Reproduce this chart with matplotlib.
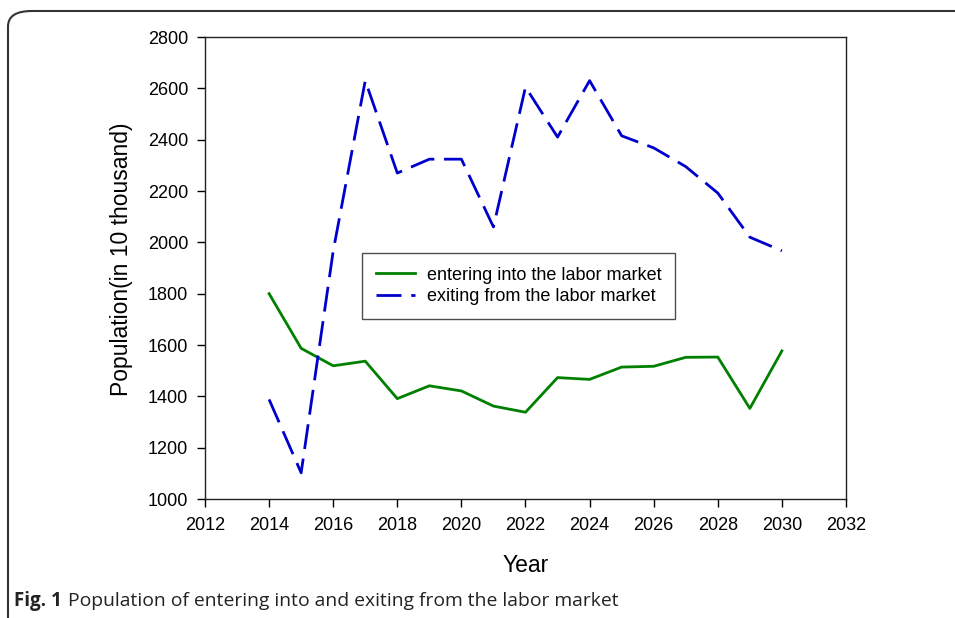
import matplotlib
matplotlib.use("Agg")
import matplotlib.pyplot as plt
from matplotlib.patches import FancyBboxPatch

years = [2014, 2015, 2016, 2017, 2018, 2019, 2020, 2021, 2022,
         2023, 2024, 2025, 2026, 2027, 2028, 2029, 2030]
entering = [1800, 1587, 1519, 1537, 1391, 1441, 1421, 1362, 1338,
            1473, 1466, 1514, 1517, 1552, 1553, 1353, 1577]
exiting = [1388, 1102, 1966, 2630, 2270, 2324, 2324, 2060, 2605,
           2410, 2630, 2415, 2368, 2295, 2192, 2020, 1967]
xticks = list(range(2012, 2033, 2))
yticks = list(range(1000, 2801, 200))
label_enter = "entering into the labor market"
label_exit = "exiting from the labor market"

plt.rcParams['font.family'] = ['Liberation Sans', 'DejaVu Sans']

fig = plt.figure(figsize=(9.55, 6.18), dpi=100)
ax = fig.add_axes([205/955, 1-499/618, 641/955, 462/618])

ax.plot(years, entering, color='#008000', lw=2.0, label=label_enter)
ax.plot(years, exiting, color='#0000CC', lw=2.0, dashes=(9, 3.5), label=label_exit)

ax.set_xlim(2012, 2032)
ax.set_ylim(1000, 2800)
ax.set_xticks(xticks)
ax.set_yticks(yticks)
ax.tick_params(direction='out', length=6, width=1, labelsize=13)
ax.tick_params(axis='x', pad=7)
ax.tick_params(axis='y', pad=6)
for s in ax.spines.values():
    s.set_linewidth(1.0)
    s.set_color('#222222')

ax.set_xlabel("Year", fontsize=16.5, labelpad=14)
ax.set_ylabel("Population(in 10 thousand)", fontsize=16.5)
ax.yaxis.set_label_coords(-0.112, 0.52)

leg = ax.legend(loc='upper left', bbox_to_anchor=(0.245, 0.532), fontsize=13,
                frameon=True, fancybox=False, edgecolor='#222222',
                handlelength=2.2, borderpad=0.75, labelspacing=0.25,
                handletextpad=0.65, borderaxespad=0)
leg.get_frame().set_linewidth(1.0)

frame = FancyBboxPatch((8/955, -0.2), 1.2, 1 - 11/618 + 0.2,
                       boxstyle="round,pad=0,rounding_size=0.025",
                       transform=fig.transFigure, fill=False,
                       edgecolor='#333333', lw=1.5, clip_on=False)
fig.patches.append(frame)

fig.text(14/955, 1-601/618, "Fig. 1", fontsize=13.5, fontweight='bold',
         family=['Open Sans', 'DejaVu Sans'], color='#222222', va='center')
fig.text(68/955, 1-601/618, "Population of entering into and exiting from the labor market",
         fontsize=13.9, family=['Open Sans', 'DejaVu Sans'], color='#222222', va='center')

fig.savefig("out.png", dpi=100)
